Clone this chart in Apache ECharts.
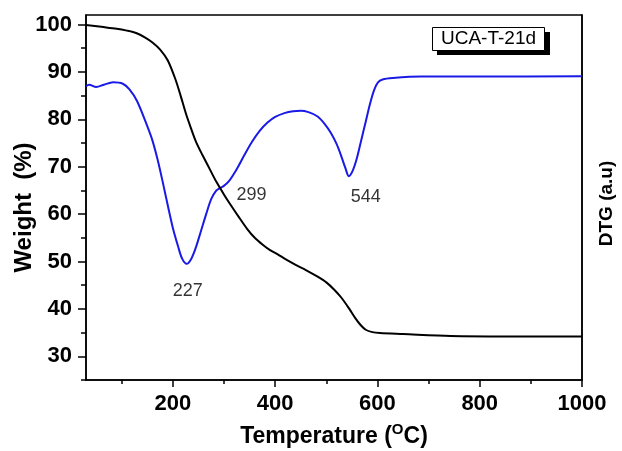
<!DOCTYPE html>
<html>
<head>
<meta charset="utf-8">
<script src="https://cdn.jsdelivr.net/npm/echarts@6/dist/echarts.min.js"></script>
<style>
  html, body { margin: 0; padding: 0; background: #fff; }
  #chart { width: 622px; height: 451px; }
</style>
</head>
<body>
<div id="chart"></div>
<script>
// TGA weight-loss curve: temperature (°C) and remaining weight (%)
const tgaTemp = [30, 60, 90, 110, 128, 145, 160, 175, 190, 205, 215, 226, 235, 245, 258, 271, 285, 300, 315, 330, 345, 360, 375, 390, 405, 420, 440, 460, 483, 500, 516, 530, 545, 557, 567, 577, 590, 605, 650, 743, 850, 1000];
const tgaWeight = [99.9, 99.5, 99.1, 98.7, 98.2, 97.3, 96.2, 94.7, 92.4, 88.4, 85.0, 81.0, 78.2, 75.3, 72.4, 69.7, 66.8, 64.1, 61.6, 59.2, 56.9, 55.0, 53.6, 52.4, 51.5, 50.5, 49.3, 48.2, 46.8, 45.6, 44.0, 42.3, 40.0, 38.0, 36.6, 35.6, 35.1, 34.9, 34.7, 34.3, 34.2, 34.2];

// DTG curve (arbitrary units, plotted on the right-hand scale)
const dtgTemp = [30, 36, 50, 65, 83, 102, 115, 130, 150, 160, 170, 180, 190, 200, 210, 218, 227, 236, 245, 255, 265, 275, 285, 292, 299, 310, 325, 340, 355, 370, 385, 400, 418, 435, 450, 465, 483, 497, 509, 520, 529, 537, 544, 551, 559, 567, 577, 586, 594, 601, 610, 630, 685, 800, 1000];
const dtgValue = [87.0, 87.3, 86.8, 87.3, 87.8, 87.5, 86.3, 83.8, 78.5, 75.5, 71.5, 66.8, 61.8, 57.0, 53.2, 50.6, 49.5, 50.6, 53.0, 56.5, 60.0, 63.2, 65.0, 65.5, 65.9, 67.0, 69.5, 72.5, 75.3, 77.6, 79.3, 80.5, 81.3, 81.7, 81.8, 81.5, 80.6, 79.0, 77.1, 74.8, 72.3, 69.8, 68.0, 69.0, 71.5, 75.0, 79.5, 83.5, 86.3, 87.8, 88.4, 88.7, 89.0, 89.0, 89.1];

// Labelled DTG peaks (temperature, DTG value)
const peakTemp = [227, 299, 544];
const peakValue = [49.5, 65.9, 68.0];

// Axis ticks
const xMajor = [200, 400, 600, 800, 1000];
const xMinor = [100, 300, 500, 700, 900];
const yMajor = [30, 40, 50, 60, 70, 80, 90, 100];
const yMinor = [25, 35, 45, 55, 65, 75, 85, 95];

const sampleName = 'UCA-T-21d';

const FONT = "'Liberation Sans', Arial, sans-serif";
const zip = (a, b) => a.map((v, i) => [v, b[i]]);
const peakOffsets = [[1, 27], [28, 9], [17, 21]];

const chart = echarts.init(document.getElementById('chart'), null, { renderer: 'canvas' });

chart.setOption({
  animation: false,
  backgroundColor: '#fff',
  grid: {
    left: 86, right: 40, top: 15, bottom: 71,
    outerBoundsMode: 'none', containLabel: false,
    show: true, borderColor: '#000', borderWidth: 1.5, backgroundColor: 'transparent'
  },
  xAxis: [
    {
      type: 'value', min: 30, max: 1000, position: 'bottom',
      axisLine: { show: true, lineStyle: { color: '#000', width: 1.5 } },
      axisTick: { show: true, customValues: xMajor, length: 7, lineStyle: { color: '#000', width: 1.5 } },
      axisLabel: {
        customValues: xMajor, color: '#000', fontFamily: FONT, fontWeight: 'bold', fontSize: 22, margin: 13,
        formatter: v => String(v)
      },
      splitLine: { show: false },
      name: '{n|Temperature (}{s|O}{n|C)}',
      nameLocation: 'middle', nameGap: 42,
      nameTextStyle: {
        rich: {
          n: { fontFamily: FONT, fontWeight: 'bold', fontSize: 23, color: '#000', lineHeight: 26, verticalAlign: 'bottom' },
          s: { fontFamily: FONT, fontWeight: 'bold', fontSize: 15, color: '#000', lineHeight: 26, verticalAlign: 'top', padding: [0, 0, 9, 0] }
        }
      }
    },
    {
      type: 'value', min: 30, max: 1000, position: 'bottom', gridIndex: 0,
      axisLine: { show: false },
      axisTick: { show: true, customValues: xMinor, length: 4, lineStyle: { color: '#000', width: 1.5 } },
      axisLabel: { show: false },
      splitLine: { show: false }
    }
  ],
  yAxis: [
    {
      type: 'value', min: 25, max: 102, position: 'left',
      axisLine: { show: true, lineStyle: { color: '#000', width: 1.5 } },
      axisTick: { show: true, customValues: yMajor, length: 8, lineStyle: { color: '#000', width: 1.5 } },
      axisLabel: {
        customValues: yMajor, color: '#000', fontFamily: FONT, fontWeight: 'bold', fontSize: 22, margin: 14,
        formatter: v => String(v)
      },
      splitLine: { show: false },
      name: 'Weight  (%)', nameLocation: 'middle', nameGap: 50, nameMoveOverlap: false,
      nameTextStyle: { fontFamily: FONT, fontWeight: 'bold', fontSize: 24, color: '#000', padding: [0, 20, 0, 0] }
    },
    {
      type: 'value', min: 25, max: 102, position: 'left',
      axisLine: { show: false },
      axisTick: { show: true, customValues: yMinor, length: 5, lineStyle: { color: '#000', width: 1.5 } },
      axisLabel: { show: false },
      splitLine: { show: false }
    },
    {
      type: 'value', min: 25, max: 102, position: 'right',
      axisLine: { show: true, lineStyle: { color: '#000', width: 1.5 } },
      axisTick: { show: false },
      axisLabel: { show: false },
      splitLine: { show: false },
      name: 'DTG (a.u)', nameLocation: 'middle', nameGap: 15,
      nameTextStyle: { fontFamily: FONT, fontWeight: 'bold', fontSize: 19, color: '#000', padding: [0, 12, 0, 0] }
    }
  ],
  series: [
    {
      name: 'Weight', type: 'line', xAxisIndex: 0, yAxisIndex: 0,
      data: zip(tgaTemp, tgaWeight), smooth: 0.3, showSymbol: false,
      lineStyle: { color: '#000', width: 2 }, z: 3
    },
    {
      name: 'DTG', type: 'line', xAxisIndex: 0, yAxisIndex: 2,
      data: zip(dtgTemp, dtgValue), smooth: 0.3, showSymbol: false,
      lineStyle: { color: '#1a1ae6', width: 2 }, z: 2
    },
    {
      name: 'Peaks', type: 'scatter', xAxisIndex: 0, yAxisIndex: 2,
      symbolSize: 0, silent: true,
      data: peakTemp.map((t, i) => ({
        value: [t, peakValue[i]],
        label: { offset: peakOffsets[i] }
      })),
      label: {
        show: true, position: 'inside', color: '#000', fontFamily: FONT, fontSize: 18,
        formatter: p => String(p.value[0])
      },
      z: 4
    }
  ],
  graphic: [
    { type: 'rect', left: 437, top: 32, shape: { width: 113, height: 23 }, style: { fill: '#000' }, z: 10 },
    { type: 'rect', left: 432, top: 27, shape: { width: 112, height: 23 }, style: { fill: '#fff', stroke: '#000', lineWidth: 1 }, z: 11 },
    {
      type: 'text', left: 441, top: 29, z: 12,
      style: { text: sampleName, fontFamily: FONT, fontSize: 19, fill: '#000' }
    }
  ]
});
</script>
</body>
</html>
